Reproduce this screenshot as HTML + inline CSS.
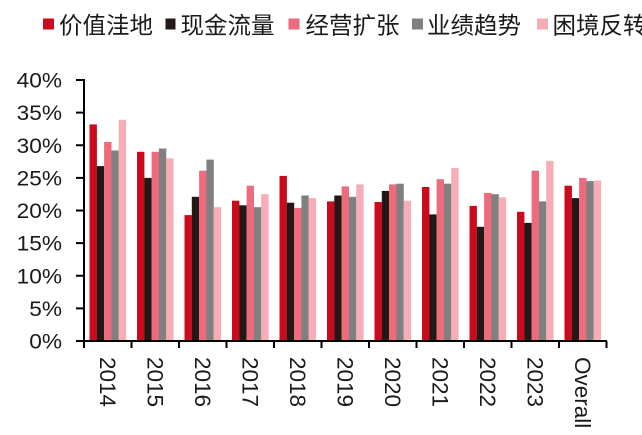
<!DOCTYPE html>
<html>
<head>
<meta charset="utf-8">
<style>
  html,body{margin:0;padding:0;background:#fff;}
  body{width:642px;height:435px;overflow:hidden;position:relative;}
  svg{position:absolute;left:0;top:0;}
  .lg{font-family:"Liberation Sans","Noto Sans CJK SC",sans-serif;font-size:23.5px;fill:#1a1a1a;}
  .yl{font-family:"Liberation Sans",sans-serif;font-size:21px;fill:#1a1a1a;}
  .xl{font-family:"Liberation Sans",sans-serif;font-size:22.5px;fill:#1a1a1a;}
</style>
</head>
<body>
<svg width="642" height="435" viewBox="0 0 642 435" xmlns="http://www.w3.org/2000/svg">
  <!-- Legend -->
  <rect x="43" y="18.5" width="11" height="11" fill="#CC0A1E"/>
  <text class="lg" x="59" y="33.5">价值洼地</text>
  <rect x="165.5" y="18.5" width="10" height="11" fill="#231816"/>
  <text class="lg" x="180.5" y="33.5">现金流量</text>
  <rect x="288.5" y="18.5" width="11" height="11" fill="#EE6B7E"/>
  <text class="lg" x="305.5" y="33.5">经营扩张</text>
  <rect x="412" y="18.5" width="11" height="11" fill="#808080"/>
  <text class="lg" x="427" y="33.5">业绩趋势</text>
  <rect x="537" y="18.5" width="11" height="11" fill="#F6AEB5"/>
  <text class="lg" x="552.5" y="33.5">困境反转</text>

  <!-- Y labels -->
  <g class="yl" text-anchor="end">
    <text transform="translate(62,87.5) scale(1.08,1)">40%</text>
    <text transform="translate(62,120.1) scale(1.08,1)">35%</text>
    <text transform="translate(62,152.75) scale(1.08,1)">30%</text>
    <text transform="translate(62,185.4) scale(1.08,1)">25%</text>
    <text transform="translate(62,218) scale(1.08,1)">20%</text>
    <text transform="translate(62,250.6) scale(1.08,1)">15%</text>
    <text transform="translate(62,283.25) scale(1.08,1)">10%</text>
    <text transform="translate(62,315.9) scale(1.08,1)">5%</text>
    <text transform="translate(62,348.5) scale(1.08,1)">0%</text>
  </g>

  <!-- Bars -->
  <g>
    <!-- 2014 -->
    <rect x="89.5" y="124.4" width="7.4" height="216.6" fill="#CC0A1E"/>
    <rect x="96.8" y="166.1" width="7.4" height="174.9" fill="#231816"/>
    <rect x="104.1" y="142.0" width="7.4" height="199.0" fill="#EE6B7E"/>
    <rect x="111.4" y="150.5" width="7.4" height="190.5" fill="#808080"/>
    <rect x="118.7" y="119.8" width="7.4" height="221.2" fill="#F6AEB5"/>
    <!-- 2015 -->
    <rect x="137" y="151.8" width="7.4" height="189.2" fill="#CC0A1E"/>
    <rect x="144.3" y="177.9" width="7.4" height="163.1" fill="#231816"/>
    <rect x="151.6" y="151.8" width="7.4" height="189.2" fill="#EE6B7E"/>
    <rect x="158.9" y="148.5" width="7.4" height="192.5" fill="#808080"/>
    <rect x="166.2" y="158.3" width="7.4" height="182.7" fill="#F6AEB5"/>
    <!-- 2016 -->
    <rect x="184.5" y="215.1" width="7.4" height="125.9" fill="#CC0A1E"/>
    <rect x="191.8" y="196.8" width="7.4" height="144.2" fill="#231816"/>
    <rect x="199.1" y="170.7" width="7.4" height="170.3" fill="#EE6B7E"/>
    <rect x="206.4" y="159.6" width="7.4" height="181.4" fill="#808080"/>
    <rect x="213.7" y="207.2" width="7.4" height="133.8" fill="#F6AEB5"/>
    <!-- 2017 -->
    <rect x="232" y="200.7" width="7.4" height="140.3" fill="#CC0A1E"/>
    <rect x="239.3" y="205.3" width="7.4" height="135.7" fill="#231816"/>
    <rect x="246.6" y="185.7" width="7.4" height="155.3" fill="#EE6B7E"/>
    <rect x="253.9" y="207.2" width="7.4" height="133.8" fill="#808080"/>
    <rect x="261.2" y="194.2" width="7.4" height="146.8" fill="#F6AEB5"/>
    <!-- 2018 -->
    <rect x="279.5" y="175.9" width="7.4" height="165.1" fill="#CC0A1E"/>
    <rect x="286.8" y="202.7" width="7.4" height="138.3" fill="#231816"/>
    <rect x="294.1" y="207.9" width="7.4" height="133.1" fill="#EE6B7E"/>
    <rect x="301.4" y="195.5" width="7.4" height="145.5" fill="#808080"/>
    <rect x="308.7" y="198.1" width="7.4" height="142.9" fill="#F6AEB5"/>
    <!-- 2019 -->
    <rect x="327" y="201.4" width="7.4" height="139.6" fill="#CC0A1E"/>
    <rect x="334.3" y="195.5" width="7.4" height="145.5" fill="#231816"/>
    <rect x="341.6" y="186.4" width="7.4" height="154.6" fill="#EE6B7E"/>
    <rect x="348.9" y="196.8" width="7.4" height="144.2" fill="#808080"/>
    <rect x="356.2" y="184.4" width="7.4" height="156.6" fill="#F6AEB5"/>
    <!-- 2020 -->
    <rect x="374.5" y="202.0" width="7.4" height="139.0" fill="#CC0A1E"/>
    <rect x="381.8" y="190.9" width="7.4" height="150.1" fill="#231816"/>
    <rect x="389.1" y="184.4" width="7.4" height="156.6" fill="#EE6B7E"/>
    <rect x="396.4" y="183.7" width="7.4" height="157.3" fill="#808080"/>
    <rect x="403.7" y="200.7" width="7.4" height="140.3" fill="#F6AEB5"/>
    <!-- 2021 -->
    <rect x="422" y="187.0" width="7.4" height="154.0" fill="#CC0A1E"/>
    <rect x="429.3" y="214.4" width="7.4" height="126.6" fill="#231816"/>
    <rect x="436.6" y="179.2" width="7.4" height="161.8" fill="#EE6B7E"/>
    <rect x="443.9" y="183.7" width="7.4" height="157.3" fill="#808080"/>
    <rect x="451.2" y="168.1" width="7.4" height="172.9" fill="#F6AEB5"/>
    <!-- 2022 -->
    <rect x="469.5" y="205.9" width="7.4" height="135.1" fill="#CC0A1E"/>
    <rect x="476.8" y="226.8" width="7.4" height="114.2" fill="#231816"/>
    <rect x="484.1" y="192.9" width="7.4" height="148.1" fill="#EE6B7E"/>
    <rect x="491.4" y="194.2" width="7.4" height="146.8" fill="#808080"/>
    <rect x="498.7" y="197.4" width="7.4" height="143.6" fill="#F6AEB5"/>
    <!-- 2023 -->
    <rect x="517" y="211.8" width="7.4" height="129.2" fill="#CC0A1E"/>
    <rect x="524.3" y="222.9" width="7.4" height="118.1" fill="#231816"/>
    <rect x="531.6" y="170.7" width="7.4" height="170.3" fill="#EE6B7E"/>
    <rect x="538.9" y="201.4" width="7.4" height="139.6" fill="#808080"/>
    <rect x="546.2" y="160.9" width="7.4" height="180.1" fill="#F6AEB5"/>
    <!-- Overall -->
    <rect x="564.5" y="185.7" width="7.4" height="155.3" fill="#CC0A1E"/>
    <rect x="571.8" y="198.1" width="7.4" height="142.9" fill="#231816"/>
    <rect x="579.1" y="177.9" width="7.4" height="163.1" fill="#EE6B7E"/>
    <rect x="586.4" y="181.1" width="7.4" height="159.9" fill="#808080"/>
    <rect x="593.7" y="180.5" width="7.4" height="160.5" fill="#F6AEB5"/>
  </g>

  <!-- Axes -->
  <g stroke="#000" stroke-width="2" fill="none">
    <line x1="84" y1="79" x2="84" y2="342"/>
    <line x1="83" y1="341" x2="607" y2="341"/>
    <!-- y ticks -->
    <line x1="76" y1="80" x2="84" y2="80"/>
    <line x1="76" y1="112.6" x2="84" y2="112.6"/>
    <line x1="76" y1="145.25" x2="84" y2="145.25"/>
    <line x1="76" y1="177.9" x2="84" y2="177.9"/>
    <line x1="76" y1="210.5" x2="84" y2="210.5"/>
    <line x1="76" y1="243.1" x2="84" y2="243.1"/>
    <line x1="76" y1="275.75" x2="84" y2="275.75"/>
    <line x1="76" y1="308.4" x2="84" y2="308.4"/>
    <line x1="76" y1="341" x2="84" y2="341"/>
    <!-- x ticks -->
    <line x1="84" y1="341" x2="84" y2="348"/>
    <line x1="131.5" y1="341" x2="131.5" y2="348"/>
    <line x1="179" y1="341" x2="179" y2="348"/>
    <line x1="226.5" y1="341" x2="226.5" y2="348"/>
    <line x1="274" y1="341" x2="274" y2="348"/>
    <line x1="321.5" y1="341" x2="321.5" y2="348"/>
    <line x1="369" y1="341" x2="369" y2="348"/>
    <line x1="416.5" y1="341" x2="416.5" y2="348"/>
    <line x1="464" y1="341" x2="464" y2="348"/>
    <line x1="511.5" y1="341" x2="511.5" y2="348"/>
    <line x1="559" y1="341" x2="559" y2="348"/>
    <line x1="606.5" y1="341" x2="606.5" y2="348"/>
  </g>

  <!-- X labels (rotated) -->
  <g class="xl">
    <text transform="translate(99.75,357) rotate(90)">2014</text>
    <text transform="translate(147.25,357) rotate(90)">2015</text>
    <text transform="translate(194.75,357) rotate(90)">2016</text>
    <text transform="translate(242.25,357) rotate(90)">2017</text>
    <text transform="translate(289.75,357) rotate(90)">2018</text>
    <text transform="translate(337.25,357) rotate(90)">2019</text>
    <text transform="translate(384.75,357) rotate(90)">2020</text>
    <text transform="translate(432.25,357) rotate(90)">2021</text>
    <text transform="translate(479.75,357) rotate(90)">2022</text>
    <text transform="translate(527.25,357) rotate(90)">2023</text>
    <text transform="translate(574.75,357) rotate(90)">Overall</text>
  </g>
</svg>
</body>
</html>
